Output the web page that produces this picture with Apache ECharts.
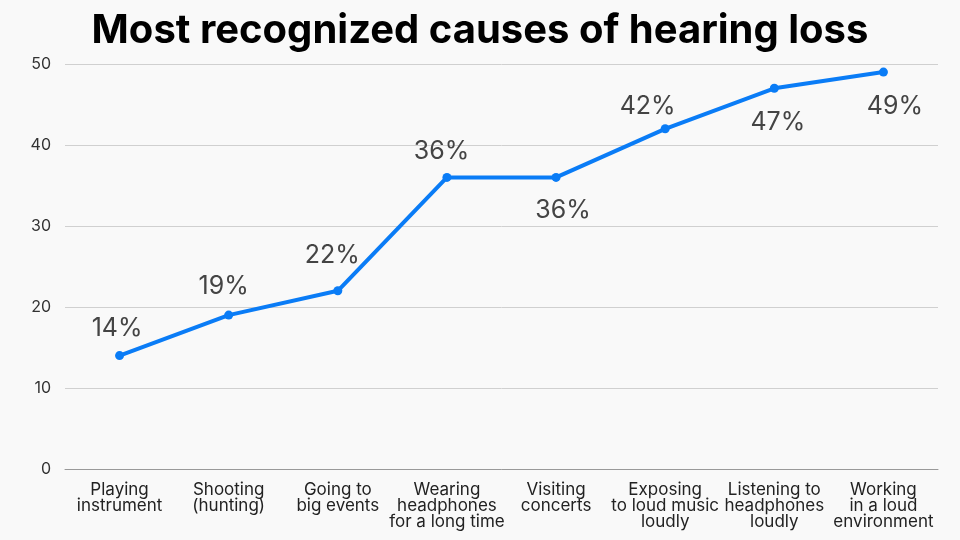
<!DOCTYPE html>
<html><head><meta charset="utf-8">
<script src="https://cdn.jsdelivr.net/npm/echarts@6/dist/echarts.min.js"></script>
<style>html,body{margin:0;padding:0;background:#f9f9f9;}#c{width:960px;height:540px;}</style>
</head><body><div id="c"></div>
<script>
const categories = ["Playing\ninstrument","Shooting\n(hunting)","Going to\nbig events","Wearing\nheadphones\nfor a long time","Visiting\nconcerts","Exposing\nto loud music\nloudly","Listening to\nheadphones\nloudly","Working\nin a loud\nenvironment"];
const values = [14,19,22,36,36,42,47,49];
const titleText = "Most recognized causes of hearing loss";

// label placement (style only)
const labelPos = ['top','top','top','top','bottom','top','bottom','bottom'];
const labelDist = [10,12,18,8.5,16.5,5,17.5,17];
const labelDx = [-2.5,-5,-5.5,-5.5,7,-17.5,3.5,11.5];

const chart = echarts.init(document.getElementById('c'), null, {renderer:'canvas'});
chart.setOption({
  backgroundColor:'#f9f9f9',
  title:{text:titleText,left:'center',top:6,textStyle:{fontFamily:'Inter',fontWeight:'bold',fontSize:40,color:'#000'}},
  grid:{left:65,right:22,top:64,bottom:71},
  xAxis:{type:'category',data:categories,boundaryGap:true,
    axisLine:{lineStyle:{color:'#999',width:1}},axisTick:{show:false},
    axisLabel:{interval:0,fontFamily:'Inter',fontSize:17,color:'#222',lineHeight:16,margin:13}},
  yAxis:{type:'value',min:0,max:50,interval:10,
    axisLine:{show:false},axisTick:{show:false},
    splitLine:{lineStyle:{color:'#d0d0d0',width:1}},
    axisLabel:{fontFamily:'Inter',fontSize:16,color:'#333',margin:14}},
  series:[{type:'line',data:values.map((v,i)=>({value:v,label:{position:labelPos[i],distance:labelDist[i],offset:[labelDx[i],0]}})),
    lineStyle:{color:'#0a7cf6',width:4},itemStyle:{color:'#0a7cf6'},
    symbol:'circle',symbolSize:9,
    label:{show:true,formatter:'{c}%',fontFamily:'Inter',fontSize:25,color:'#444'}}]
});
</script></body></html>
